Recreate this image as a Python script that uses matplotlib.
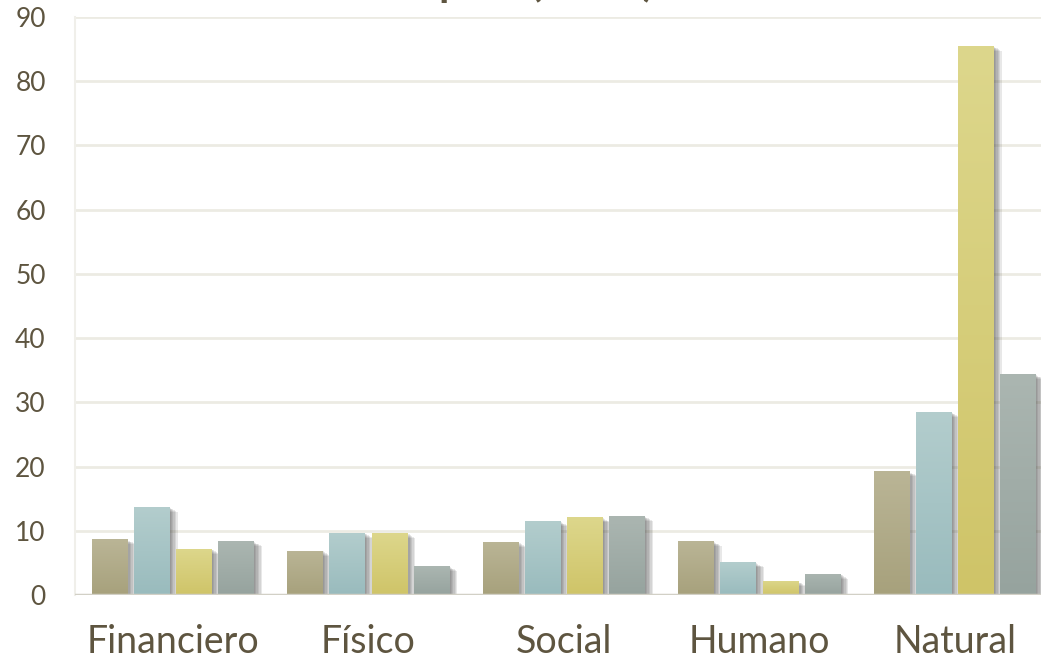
import matplotlib
matplotlib.use("Agg")
import matplotlib.pyplot as plt
import matplotlib.patheffects as pe
import numpy as np
from matplotlib.colors import LinearSegmentedColormap

categories = ["Financiero", "Físico", "Social", "Humano", "Natural"]
serie_1 = [8.7, 6.9, 8.3, 8.4, 19.3]
serie_2 = [13.7, 9.7, 11.5, 5.1, 28.5]
serie_3 = [7.2, 9.7, 12.1, 2.2, 85.5]
serie_4 = [8.4, 4.5, 12.3, 3.3, 34.4]
yticks = [0, 10, 20, 30, 40, 50, 60, 70, 80, 90]

# (top, bottom) gradient colours per series
grads = [("#bab596", "#a7a17c"), ("#b3cdcd", "#99bbbd"),
         ("#ddd78c", "#cfc468"), ("#abb6b1", "#96a39e")]
text_color = "#5e5540"

plt.rcParams["font.family"] = ["Lato", "DejaVu Sans"]

fig = plt.figure(figsize=(10.41, 6.67), dpi=100)
ax = fig.add_axes([0.072, 0.108, 0.939, 0.8665])

x = np.arange(len(categories))
step = 0.216
width = 0.18
series = [serie_1, serie_2, serie_3, serie_4]
grad_img = np.linspace(0, 1, 256).reshape(-1, 1)

# soft drop shadow: a few stacked faint offsets
shadow = [pe.SimplePatchShadow(offset=(k, -k * 0.6), shadow_rgbFace="#444444", alpha=0.12)
          for k in (1, 2, 3, 4, 5, 6)] + [pe.Normal()]

for i, vals in enumerate(series):
    top, bot = grads[i]
    cmap = LinearSegmentedColormap.from_list(f"g{i}", [top, bot])
    bars = ax.bar(x + (i - 1.5) * step, vals, width, color=bot, zorder=2,
                  path_effects=shadow)
    for b in bars:
        bx, by = b.get_x(), b.get_y()
        im = ax.imshow(grad_img, cmap=cmap, aspect="auto", zorder=3,
                       extent=(bx, bx + b.get_width(), by, by + b.get_height()),
                       origin="upper")
        im.set_clip_path(b)

ax.set_xlim(-0.5, len(categories) - 0.5)
ax.set_ylim(0, 90)
ax.set_yticks(yticks)
ax.yaxis.grid(True, color="#ecebe3", linewidth=2, zorder=0)
ax.set_axisbelow(True)
line_shadow = [pe.SimpleLineShadow(offset=(k * 0.5, -k), shadow_color="#444444", alpha=0.15)
               for k in (1, 2, 3, 4, 5)] + [pe.Normal()]
ax.axhline(0, color="#d2d0c6", linewidth=2.5, zorder=4, path_effects=line_shadow)

ax.set_xticks(x)
ax.set_xticklabels(categories, fontsize=27, color=text_color)
ax.tick_params(axis="x", length=0, pad=21)
ax.tick_params(axis="y", length=0, pad=21, labelsize=19, labelcolor=text_color)

for s in ["top", "right", "bottom"]:
    ax.spines[s].set_visible(False)
ax.spines["left"].set_color("#f0efea")
ax.spines["left"].set_linewidth(1.5)

fig.text(0.505, 1.006, "capital (Miles)", ha="center", va="baseline",
         fontsize=30, fontweight="bold", color=text_color)

fig.savefig("out.png", dpi=100)
